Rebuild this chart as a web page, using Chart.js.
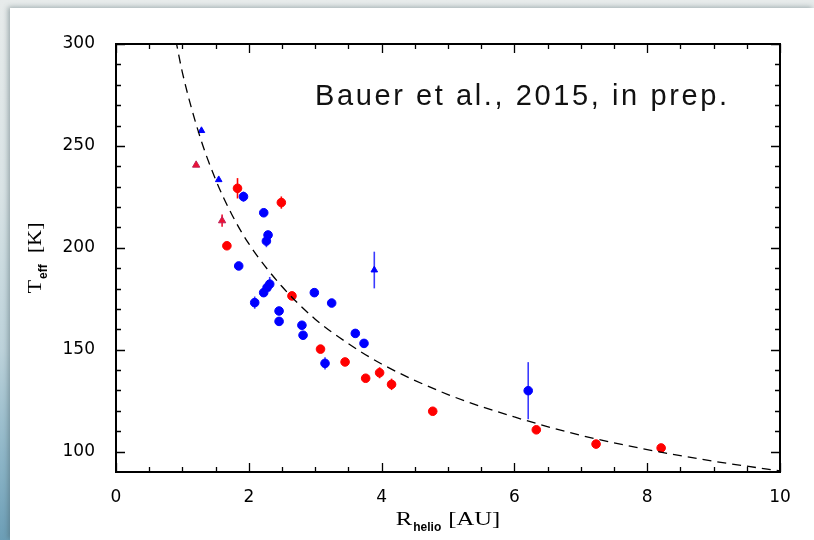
<!DOCTYPE html>
<html>
<head>
<meta charset="utf-8">
<script src="https://cdn.jsdelivr.net/npm/chart.js@4.4.1/dist/chart.umd.min.js"></script>
<style>
  html, body { margin: 0; padding: 0; }
  body {
    width: 814px; height: 540px; position: relative; overflow: hidden;
    background: linear-gradient(to bottom, #e7ebeb 0%, #d9e3e5 35%, #bcd2da 65%, #8db5c7 85%, #6c9eb6 100%);
  }
  #panel {
    position: absolute; left: 10px; top: 8px; width: 804px; height: 532px;
    background: #fff; box-shadow: -2px -1px 5px rgba(70, 95, 100, 0.45);
  }
  #c { position: absolute; left: 0; top: 0; }
</style>
</head>
<body>
<div id="panel"></div>
<canvas id="c" width="814" height="540"></canvas>
<script>
// Heliocentric distance (AU), effective temperature (K) and 1-sigma error (K)
const redCircleR   = [1.83, 2.49, 1.67, 2.65, 3.08, 3.45, 3.76, 3.97, 4.15, 4.77, 6.33, 7.23, 8.21];
const redCircleT   = [229.2, 222.2, 201.0, 176.4, 150.3, 144.0, 136.0, 138.7, 133.0, 119.8, 110.7, 103.7, 101.8];
const redCircleErr = [5, 3, 0, 0, 0, 0, 0, 2.7, 2.8, 0, 0, 0, 0];

const blueCircleR   = [1.92, 2.225, 2.29, 2.265, 1.848, 2.315, 2.275, 2.224, 2.987, 3.248, 2.089, 2.456, 2.456, 2.80, 2.817, 3.604, 3.735, 3.148, 6.208];
const blueCircleT   = [225.1, 217.2, 206.3, 203.3, 191.1, 182.2, 180.5, 178.0, 178.0, 172.9, 173.1, 169.0, 163.9, 162.0, 157.1, 158.0, 153.1, 143.3, 129.9];
const blueCircleErr = [2.5, 0, 0, 3, 0, 3.5, 0, 0, 0, 0, 3, 0, 0, 0, 0, 0, 0, 3, 14];

const redTriR   = [1.207, 1.598];
const redTriT   = [240.6, 213.3];
const redTriErr = [0, 3];

const blueTriR   = [1.287, 1.547, 3.89];
const blueTriT   = [257.5, 233.4, 189.1];
const blueTriErr = [0, 0, 9];

// Equilibrium-temperature model curve
const modelR = [0.9, 1.0, 1.25, 1.5, 1.75, 2.0, 2.5, 3.0, 3.5, 4.0, 5.0, 6.0, 7.0, 8.0, 9.0, 10.0];
const modelT = [302, 286, 256, 233.5, 216, 202, 181, 165, 153, 143, 128, 117, 108, 101, 95.3, 90.5];

// Axis ticks
const xTicks = [0, 2, 4, 6, 8, 10];
const yTicks = [100, 150, 200, 250, 300];
const xMinorStep = 0.5;
const yMinorStep = 10;

const RED = '#ff0000';
const BLUE = '#0000ff';

function pts(xs, ys) { return xs.map((x, i) => ({ x: x, y: ys[i] })); }

const errorBars = {
  id: 'errorBars',
  beforeDatasetsDraw(chart) {
    const ctx = chart.ctx, xs = chart.scales.x, ys = chart.scales.y;
    ctx.save();
    chart.data.datasets.forEach(ds => {
      if (!ds.errors) return;
      ctx.strokeStyle = ds.errColor || ds.backgroundColor;
      ctx.lineWidth = 1.6;
      ds.data.forEach((p, i) => {
        const e = ds.errors[i];
        if (!e) return;
        const px = xs.getPixelForValue(p.x);
        ctx.beginPath();
        ctx.moveTo(px, ys.getPixelForValue(p.y - e));
        ctx.lineTo(px, ys.getPixelForValue(p.y + e));
        ctx.stroke();
      });
    });
    ctx.restore();
  }
};

// Draws "main" + subscript + tail, centred at (0,0) baseline in current transform
function drawLabel(ctx, main, sub, tail, gap, sx) {
  const fMain = '18.5px "Liberation Serif"';
  const fSub = 'bold 12px "Liberation Sans"';
  ctx.font = fMain;
  const wMain = ctx.measureText(main).width * sx;
  const wTail = ctx.measureText(tail).width * sx;
  ctx.font = fSub;
  const wSub = ctx.measureText(sub).width;
  const total = wMain + 1 + wSub + gap + wTail;
  let x = -total / 2;
  ctx.fillStyle = '#000';
  ctx.textBaseline = 'alphabetic';
  ctx.textAlign = 'left';
  ctx.font = fMain;
  ctx.save(); ctx.translate(x, 0); ctx.scale(sx, 1); ctx.fillText(main, 0, 0); ctx.restore();
  x += wMain + 1;
  ctx.font = fSub;
  ctx.fillText(sub, x, 6);
  x += wSub + gap;
  ctx.font = fMain;
  ctx.save(); ctx.translate(x, 0); ctx.scale(sx, 1); ctx.fillText(tail, 0, 0); ctx.restore();
}

const frame = {
  id: 'frame',
  afterDraw(chart) {
    const ctx = chart.ctx, a = chart.chartArea;
    const xs = chart.scales.x, ys = chart.scales.y;
    ctx.save();
    ctx.strokeStyle = '#000';
    // tick marks, pointing inward on all four sides
    ctx.lineWidth = 1.3;
    ctx.beginPath();
    for (let v = xs.min; v <= xs.max + 1e-9; v += xMinorStep) {
      const major = xTicks.some(t => Math.abs(t - v) < 1e-6);
      const len = major ? 9 : 5;
      const px = Math.round(xs.getPixelForValue(v)) + 0.5;
      ctx.moveTo(px, a.bottom); ctx.lineTo(px, a.bottom - len);
      ctx.moveTo(px, a.top); ctx.lineTo(px, a.top + len);
    }
    for (let v = 100; v <= ys.max + 1e-9; v += yMinorStep) {
      const major = yTicks.some(t => Math.abs(t - v) < 1e-6);
      const len = major ? 9 : 5;
      const py = Math.round(ys.getPixelForValue(v)) + 0.5;
      ctx.moveTo(a.left, py); ctx.lineTo(a.left + len, py);
      ctx.moveTo(a.right, py); ctx.lineTo(a.right - len, py);
    }
    ctx.stroke();
    // frame
    ctx.lineWidth = 2;
    ctx.strokeRect(a.left, a.top, a.right - a.left, a.bottom - a.top);

    // axis titles
    ctx.save();
    ctx.translate((a.left + a.right) / 2, 525);
    drawLabel(ctx, 'R', 'helio', '[AU]', 7, 1.33);
    ctx.restore();
    ctx.save();
    ctx.translate(41, 258);
    ctx.rotate(-Math.PI / 2);
    drawLabel(ctx, 'T', 'eff', '[K]', 11, 1.2);
    ctx.restore();

    // reference note
    ctx.font = '29px "Liberation Sans"';
    ctx.fillStyle = '#111';
    ctx.textAlign = 'left';
    ctx.textBaseline = 'alphabetic';
    if ('letterSpacing' in ctx) ctx.letterSpacing = '2.6px';
    ctx.fillText('Bauer et al., 2015, in prep.', 315, 105);
    ctx.restore();
  }
};

const tickFont = { family: '"DejaVu Sans"', size: 17 };

new Chart(document.getElementById('c'), {
  type: 'scatter',
  data: {
    datasets: [
      {
        label: 'model', data: pts(modelR, modelT), showLine: true,
        borderColor: '#000', borderWidth: 1.3, borderDash: [9, 6],
        pointRadius: 0, cubicInterpolationMode: 'monotone', fill: false
      },
      {
        label: 'blue triangles', data: pts(blueTriR, blueTriT), errors: blueTriErr,
        backgroundColor: BLUE, borderColor: BLUE, pointStyle: 'triangle',
        pointRadius: 3.8, borderWidth: 1, errColor: '#3a3aff'
      },
      {
        label: 'blue circles', data: pts(blueCircleR, blueCircleT), errors: blueCircleErr,
        backgroundColor: BLUE, borderColor: BLUE, pointRadius: 4.3, borderWidth: 1, errColor: '#3a3aff'
      },
      {
        label: 'red triangles', data: pts(redTriR, redTriT), errors: redTriErr,
        backgroundColor: '#ee1030', borderColor: '#c02058', pointStyle: 'triangle',
        pointRadius: 4.2, borderWidth: 1, errColor: '#ee1030'
      },
      {
        label: 'red circles', data: pts(redCircleR, redCircleT), errors: redCircleErr,
        backgroundColor: RED, borderColor: RED, pointRadius: 4.3, borderWidth: 1, errColor: RED
      }
    ]
  },
  options: {
    responsive: false,
    animation: false,
    events: [],
    layout: { padding: { top: 44, right: 34, left: 0, bottom: 0 } },
    plugins: { legend: { display: false }, tooltip: { enabled: false } },
    scales: {
      x: {
        type: 'linear', min: 0, max: 10,
        grid: { display: false }, border: { display: false },
        afterBuildTicks: s => { s.ticks = xTicks.map(v => ({ value: v })); },
        afterFit: s => { s.height = 68; },
        ticks: { font: tickFont, color: '#000', padding: 7, maxRotation: 0 }
      },
      y: {
        type: 'linear', min: 90, max: 300,
        grid: { display: false }, border: { display: false },
        afterBuildTicks: s => { s.ticks = yTicks.map(v => ({ value: v })); },
        afterFit: s => { s.width = 116; },
        ticks: { font: tickFont, color: '#000', padding: 13 }
      }
    }
  },
  plugins: [errorBars, frame]
});
</script>
</body>
</html>
